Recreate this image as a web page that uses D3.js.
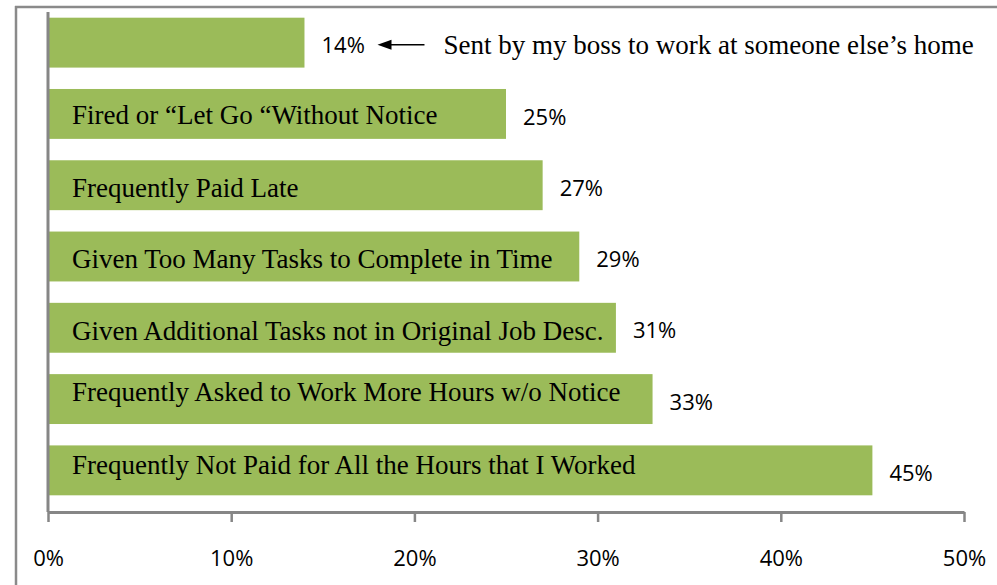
<!DOCTYPE html>
<html><head><meta charset="utf-8">
<script src="https://cdn.jsdelivr.net/npm/d3@7"></script>
<style>body{margin:0;background:#fff;}svg{display:block;}</style>
</head><body>
<svg id="c" width="997" height="585"></svg>
<script>
const categories = [
  "",
  "Fired or \u201cLet Go \u201cWithout Notice",
  "Frequently Paid Late",
  "Given Too Many Tasks to Complete in Time",
  "Given Additional Tasks not in Original Job Desc.",
  "Frequently Asked to Work More Hours w/o Notice",
  "Frequently Not Paid for All the Hours that I Worked"
];
const values = [14, 25, 27, 29, 31, 33, 45];
const tickValues = [0, 10, 20, 30, 40, 50];
const annotation = "Sent by my boss to work at someone else\u2019s home";

const labelShift = [0, 1, 2, 2, 3, -8, -6];

const svg = d3.select("#c");
const x = d3.scaleLinear().domain([0, 50]).range([48, 964]);
const y = d3.scaleBand().domain(d3.range(values.length)).range([7, 506]).paddingInner(0.3).paddingOuter(0.15);

// frame
svg.append("line").attr("x1",16).attr("x2",16).attr("y1",6).attr("y2",585).attr("stroke","#8a8a8a").attr("stroke-width",2.5);
svg.append("line").attr("x1",15).attr("x2",997).attr("y1",7).attr("y2",7).attr("stroke","#8a8a8a").attr("stroke-width",2.5);

svg.selectAll("rect.bar").data(values).join("rect")
  .attr("x", x(0)).attr("y", (d,i)=>y(i))
  .attr("width", d=>x(d)-x(0)).attr("height", y.bandwidth())
  .attr("fill", "#9BBB59");

// axes
const axisG = svg.append("g").attr("transform","translate(0,512)")
  .call(d3.axisBottom(x).tickValues(tickValues).tickSize(10).tickFormat(d=>d+"%").tickSizeOuter(0));
axisG.select(".domain").attr("stroke","#868686").attr("stroke-width",3);
axisG.selectAll(".tick line").attr("stroke","#868686").attr("stroke-width",2.5);
axisG.selectAll(".tick text").attr("font-family","'Open Sans', 'DejaVu Sans', sans-serif").attr("font-size",22).attr("fill","#000").attr("y",46).attr("dy","0.35em");

svg.append("line").attr("x1",x(0)).attr("x2",x(0)).attr("y1",12).attr("y2",512).attr("stroke","#868686").attr("stroke-width",3);

// category labels
svg.selectAll("text.cat").data(categories).join("text")
  .attr("x", 72).attr("y", (d,i)=>y(i)+y.bandwidth()/2 + labelShift[i])
  .attr("dy","0.35em")
  .attr("font-family","'Liberation Serif','Times New Roman',serif").attr("font-size",27)
  .attr("fill","#000").text(d=>d);

// value labels
svg.selectAll("text.val").data(values).join("text")
  .attr("x", d=>x(d)+17).attr("y", (d,i)=>y(i)+y.bandwidth()/2+3)
  .attr("dy","0.35em")
  .attr("font-family","'Open Sans', 'DejaVu Sans', sans-serif").attr("font-size",22)
  .attr("fill","#000").text(d=>d+"%");

// annotation
const ay = y(0)+y.bandwidth()/2+2;
const ax0 = x(values[0]) + 73;
svg.append("line").attr("x1",ax0+6).attr("x2",ax0+47).attr("y1",ay).attr("y2",ay).attr("stroke","#000").attr("stroke-width",1.5);
svg.append("path").attr("d",`M${ax0},${ay} L${ax0+14},${ay-5} L${ax0+14},${ay+5} Z`).attr("fill","#000");
svg.append("text").attr("x", ax0+66).attr("y", ay).attr("dy","0.35em")
  .attr("font-family","'Liberation Serif','Times New Roman',serif").attr("font-size",27).attr("fill","#000").text(annotation);
</script>
</body></html>
